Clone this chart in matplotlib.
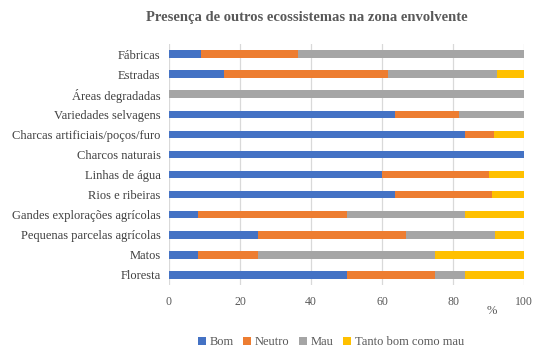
import matplotlib
matplotlib.use('Agg')
import matplotlib.pyplot as plt
import numpy as np

plt.rcParams['font.family'] = ['Liberation Serif', 'DejaVu Serif']

# categorias (de cima para baixo)
categorias = ['Fábricas', 'Estradas', 'Áreas degradadas', 'Variedades selvagens',
              'Charcas artificiais/poços/furo', 'Charcos naturais', 'Linhas de água',
              'Rios e ribeiras', 'Gandes explorações agrícolas',
              'Pequenas parcelas agrícolas', 'Matos', 'Floresta']

bom    = [9.1, 15.4, 0, 63.6, 83.3, 100, 60, 63.6, 8.3, 25, 8.3, 50]
neutro = [27.3, 46.2, 0, 18.2, 8.3, 0, 30, 27.3, 41.7, 41.7, 16.7, 25]
mau    = [63.6, 30.8, 100, 18.2, 0, 0, 0, 0, 33.3, 25, 50, 8.3]
tanto  = [0, 7.7, 0, 0, 8.3, 0, 10, 9.1, 16.7, 8.3, 25, 16.7]

series = [('Bom', bom, '#4472C4'), ('Neutro', neutro, '#ED7D31'),
          ('Mau', mau, '#A5A5A5'), ('Tanto bom como mau', tanto, '#FFC000')]

fig = plt.figure(figsize=(5.47, 3.55), dpi=100)
ax = fig.add_axes([169/547, 1 - 285/355, 355/547, 241/355])

y = np.arange(len(categorias))
left = np.zeros(len(categorias))
for nome, vals, cor in series:
    ax.barh(y, vals, left=left, height=0.37, color=cor, label=nome, zorder=3)
    left += np.array(vals)

ax.set_xlim(0, 100)
ax.set_ylim(len(categorias) - 0.5, -0.5)
ax.set_yticks(y)
ax.set_yticklabels(categorias, fontsize=9, color='#404040')
ax.set_xticks([0, 20, 40, 60, 80, 100])
ax.tick_params(axis='x', labelsize=8.5, colors='#595959', length=0, pad=8)
ax.tick_params(axis='y', length=0, pad=6)
ax.grid(axis='x', color='#d9d9d9', linewidth=0.9, zorder=0)
for s in ax.spines.values():
    s.set_visible(False)

fig.text(492/547, 1 - 311/355, '%', fontsize=9, color='#595959', ha='center', va='center')
fig.text(307/547, 1 - 18/355, 'Presença de outros ecossistemas na zona envolvente',
         fontsize=10.5, fontweight='bold', color='#595959', ha='center', va='center')

fig.legend(loc='center', bbox_to_anchor=(331/547, 1 - 342/355), ncol=4, frameon=False,
           fontsize=9, handlelength=0.6, handleheight=0.6, handletextpad=0.3,
           columnspacing=0.8, labelcolor='#595959')

fig.savefig('out.png', dpi=100)
